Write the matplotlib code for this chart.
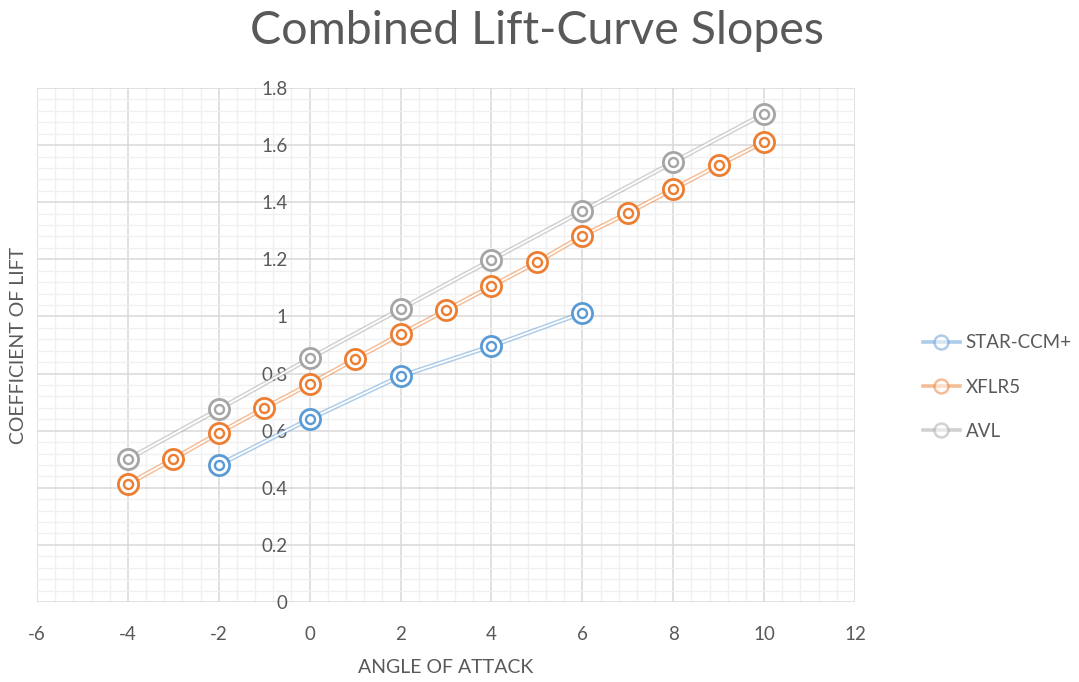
import numpy as np
import matplotlib.pyplot as plt
from matplotlib.ticker import MultipleLocator

# lift curve data (angle of attack in degrees, CL)
star_aoa = [-2, 0, 2, 4, 6]
star_cl = [0.480, 0.641, 0.791, 0.896, 1.012]

xflr_aoa = [-4, -3, -2, -1, 0, 1, 2, 3, 4, 5, 6, 7, 8, 9, 10]
xflr_cl = [0.413, 0.501, 0.592, 0.679, 0.763, 0.851, 0.938, 1.022,
           1.106, 1.190, 1.282, 1.362, 1.446, 1.530, 1.611]

avl_aoa = [-4, -2, 0, 2, 4, 6, 8, 10]
avl_cl = [0.500, 0.675, 0.853, 1.026, 1.198, 1.369, 1.540, 1.710]

x_ticks = [-6, -4, -2, 0, 2, 4, 6, 8, 10, 12]
y_ticks = [0, 0.2, 0.4, 0.6, 0.8, 1.0, 1.2, 1.4, 1.6, 1.8]

series = [("STAR-CCM+", star_aoa, star_cl, "#5B9BD5"),
          ("XFLR5", xflr_aoa, xflr_cl, "#ED7D31"),
          ("AVL", avl_aoa, avl_cl, "#A5A5A5")]

plt.rcParams['font.family'] = ['Lato', 'DejaVu Sans']
fig = plt.figure(figsize=(10.79, 6.82), dpi=100)
ax = fig.add_axes([0.0343, 0.1173, 0.7581, 0.7537])

for name, x, y, c in series:
    # double line: wide tinted stroke with a white core
    ax.plot(x, y, color=c, lw=3.4, alpha=0.5, zorder=3, solid_capstyle='butt')
    ax.plot(x, y, color='white', lw=1.3, zorder=3.1)
    ax.plot(x, y, ls='none', marker='o', ms=14.5, mfc='white', mec=c, mew=2.0, zorder=4)
    ax.plot(x, y, ls='none', marker='o', ms=6.5, mfc='none', mec=c, mew=1.7, zorder=5)
    # legend proxy
    ax.plot([], [], color=c, lw=2.6, alpha=0.5, marker='o', ms=10, mfc='white',
            mec=c, mew=1.8, label=name)

ax.set_xlim(-6, 12)
ax.set_ylim(0, 1.8)
ax.set_xticks(x_ticks)
ax.set_xticklabels([f"{v:g}" for v in x_ticks])
ax.set_yticks(y_ticks)
ax.set_yticklabels([f"{v:g}" for v in y_ticks])
ax.xaxis.set_minor_locator(MultipleLocator(0.4))
ax.yaxis.set_minor_locator(MultipleLocator(0.04))
ax.grid(which='major', color='#d9d9d9', lw=1.1, zorder=1)
ax.grid(which='minor', color='#f0f0f0', lw=1.0, zorder=0.5)
ax.set_axisbelow(True)

for s in ['top', 'right', 'bottom']:
    ax.spines[s].set_visible(False)
ax.spines['left'].set_position(('data', 0))
ax.spines['left'].set_visible(False)

ax.tick_params(which='both', length=0, labelcolor='#595959', labelsize=13.5)
ax.tick_params(axis='x', pad=17)
ax.tick_params(axis='y', pad=16)

ax.set_xlabel("ANGLE OF ATTACK", color='#595959', fontsize=14, labelpad=12)
fig.text(0.017, 0.494, "COEFFICIENT OF LIFT", rotation=90, color='#595959',
         fontsize=14, ha='center', va='center')
fig.text(0.498, 0.955, "Combined Lift-Curve Slopes", color='#595959',
         fontsize=33.5, ha='center', va='center')

leg = ax.legend(loc='center left', bbox_to_anchor=(1.062, 0.418), frameon=False,
                fontsize=13.5, labelspacing=1.45, handlelength=2.0, handletextpad=0.3)
for t in leg.get_texts():
    t.set_color('#595959')

fig.savefig("out.png", dpi=100)
